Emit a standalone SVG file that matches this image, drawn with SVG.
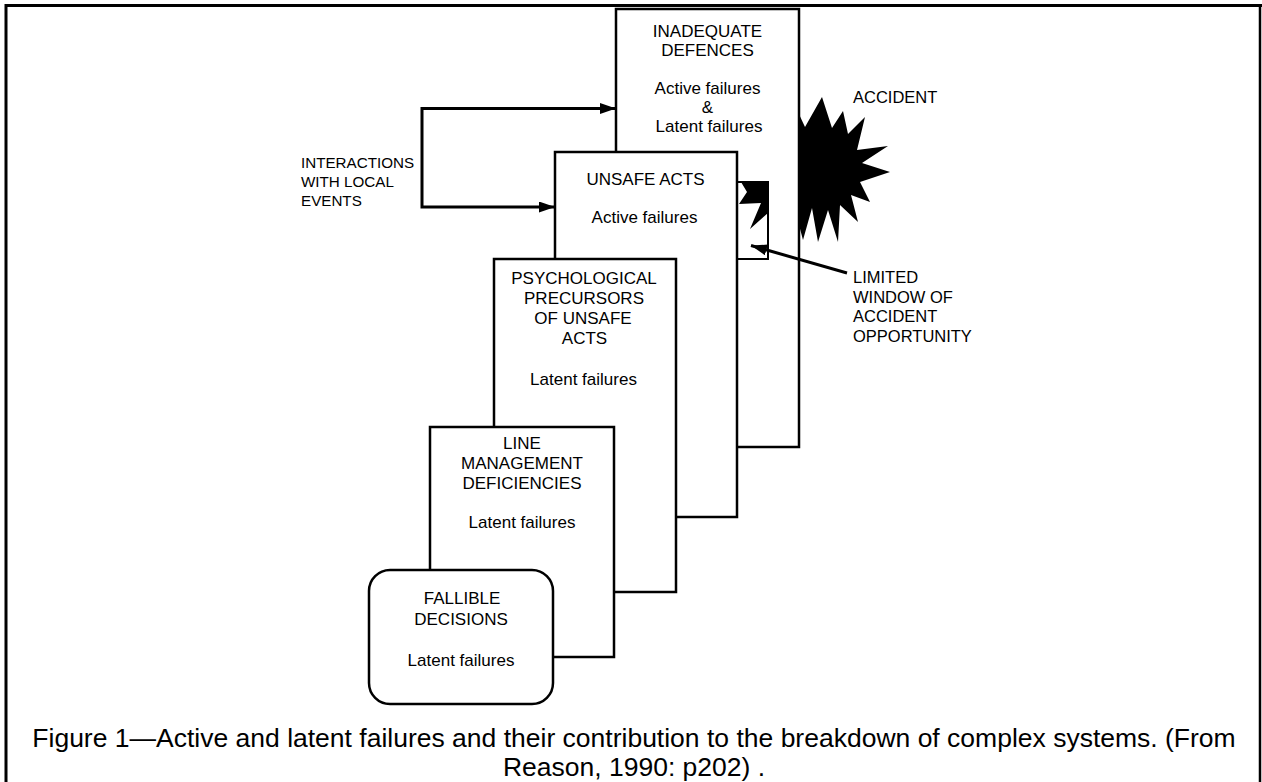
<svg xmlns="http://www.w3.org/2000/svg" width="1262" height="782" viewBox="0 0 1262 782">
<style>
text{font-family:"Liberation Sans",Arial,Helvetica,sans-serif;fill:#000}
.lbl{font-size:17px;text-anchor:middle}
.side{font-size:16.5px}
.int{font-size:15.2px}
.cap{font-size:26.5px;text-anchor:middle}
.box{fill:#fff;stroke:#000;stroke-width:2.5}
.conn{fill:none;stroke:#000;stroke-width:3}
</style>
<defs>
<marker id="ah" markerUnits="userSpaceOnUse" markerWidth="16" markerHeight="11" refX="16" refY="5.5" orient="auto-start-reverse"><path d="M0,0 L16,5.5 L0,11 z" fill="#000"/></marker>
<clipPath id="win"><rect x="737" y="182" width="31" height="77"/></clipPath>
</defs>
<rect width="1262" height="782" fill="#fff"/>
<g id="frame">
<path d="M6,782 V5.5 H1262" fill="none" stroke="#000" stroke-width="3"/>
<path d="M1260,5 V782" fill="none" stroke="#000" stroke-width="2.5"/>
</g>
<g id="accident">
<polygon fill="#000" points="790,95 805,127 822,97 832,128 843,111 848,134 865,117 857,150 888,146 862,163 890,172 860,182 870,202 851,195 858,222 840,205 838,242 828,210 818,242 812,208 803,240 795,210 785,200 785,140"/>
<text class="side" x="853" y="103">ACCIDENT</text>
</g>
<g id="inadequate-defences">
<rect class="box" x="616" y="9" width="183" height="438"/>
<text class="lbl" x="707.5" y="36.5">INADEQUATE</text>
<text class="lbl" x="707.5" y="55.5">DEFENCES</text>
<text class="lbl" x="707.5" y="93.5">Active failures</text>
<text class="lbl" x="707.5" y="112.5">&amp;</text>
<text class="lbl" x="709" y="131.5">Latent failures</text>
</g>
<g id="window">
<rect x="737" y="182" width="31" height="77" fill="#fff" stroke="#000" stroke-width="2"/>
<polygon clip-path="url(#win)" fill="#000" points="741,182 768,182 768,213 750,229 761,203 739,204 747,192"/>
</g>
<g id="unsafe-acts">
<rect class="box" x="555" y="152" width="182" height="365"/>
<text class="lbl" x="645.5" y="185">UNSAFE ACTS</text>
<text class="lbl" x="644.5" y="222.5">Active failures</text>
</g>
<g id="psychological-precursors">
<rect class="box" x="494" y="259" width="182" height="333"/>
<text class="lbl" x="584" y="284">PSYCHOLOGICAL</text>
<text class="lbl" x="584" y="304">PRECURSORS</text>
<text class="lbl" x="583" y="324">OF UNSAFE</text>
<text class="lbl" x="584.5" y="344">ACTS</text>
<text class="lbl" x="583.5" y="384.5">Latent failures</text>
</g>
<g id="line-management">
<rect class="box" x="430" y="427" width="184" height="230"/>
<text class="lbl" x="522" y="449">LINE</text>
<text class="lbl" x="522" y="469">MANAGEMENT</text>
<text class="lbl" x="522" y="489">DEFICIENCIES</text>
<text class="lbl" x="522" y="528">Latent failures</text>
</g>
<g id="fallible-decisions">
<rect class="box" x="369" y="570" width="184" height="134" rx="21" ry="21"/>
<text class="lbl" x="462" y="604">FALLIBLE</text>
<text class="lbl" x="461" y="625">DECISIONS</text>
<text class="lbl" x="461" y="666">Latent failures</text>
</g>
<g id="interactions">
<text class="int" x="301" y="168">INTERACTIONS</text>
<text class="int" x="301" y="187">WITH LOCAL</text>
<text class="int" x="301" y="206">EVENTS</text>
</g>
<g id="limited-window">
<text class="side" x="853" y="283">LIMITED</text>
<text class="side" x="853" y="302.5">WINDOW OF</text>
<text class="side" x="853" y="322">ACCIDENT</text>
<text class="side" x="853" y="341.5">OPPORTUNITY</text>
</g>
<g id="connectors">
<path class="conn" d="M616,108.5 H422 V207 H555" marker-start="url(#ah)" marker-end="url(#ah)"/>
<path class="conn" d="M847,273 L751,245.5" marker-end="url(#ah)"/>
</g>
<g id="caption">
<text class="cap" x="634" y="747">Figure 1—Active and latent failures and their contribution to the breakdown of complex systems. (From</text>
<text class="cap" x="634" y="775.5">Reason, 1990: p202) .</text>
</g>
</svg>
